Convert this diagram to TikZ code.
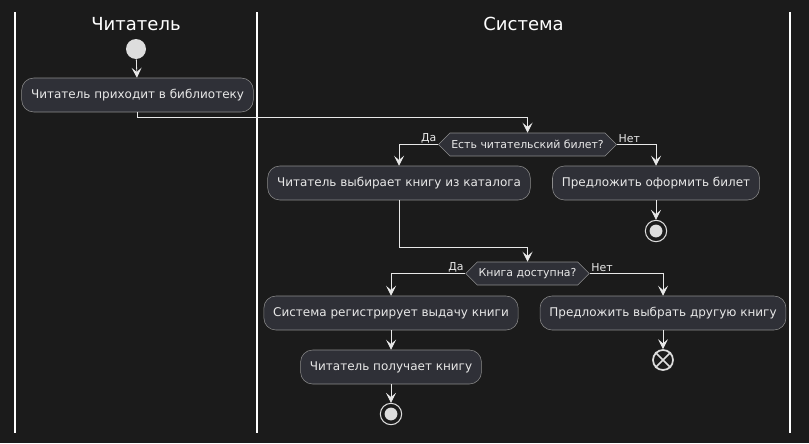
\documentclass[tikz,border=0pt]{standalone}
\usepackage{fontspec}
\setmainfont{DejaVu Sans}
\usetikzlibrary{arrows.meta,shapes.symbols}

\definecolor{bgcol}{HTML}{1B1B1B}
\definecolor{boxfill}{HTML}{2F3037}
\definecolor{boxline}{HTML}{8C8C8C}
\definecolor{inkcol}{HTML}{E8E8E8}
\definecolor{dotcol}{HTML}{DDDDDD}

\begin{document}
\begin{tikzpicture}
[x=0.75pt,y=-0.75pt,
action/.style={rectangle,rounded corners=9pt,draw=boxline,fill=boxfill,
text=inkcol,font=\fontsize{9}{11}\selectfont,
minimum height=25.5pt,inner xsep=7pt},
decision/.style={signal,signal to=west and east,signal pointer angle=90,
draw=boxline,fill=boxfill,text=inkcol,font=\fontsize{8.2}{10}\selectfont,
minimum height=17.25pt,inner xsep=1pt,inner ysep=0pt},
startdot/.style={circle,fill=dotcol,inner sep=0pt,minimum size=15pt},
stopdot/.style={circle,draw=dotcol,thick,fill=bgcol,inner sep=0pt,minimum size=16pt,
path picture={\fill[dotcol] (path picture bounding box.center) circle (4.8pt);}},
killdot/.style={circle,draw=dotcol,line width=1.3pt,inner sep=0pt,minimum size=15pt},
flow/.style={draw=inkcol,semithick,-{Stealth[length=7.5pt,width=7.5pt,inset=3.2pt]}},
guard/.style={text=inkcol,font=\fontsize{8.2}{10}\selectfont,inner sep=1pt},
lane/.style={draw=white,line width=1.5pt},
title/.style={text=white,font=\fontsize{13.5}{16}\selectfont}]

\fill[bgcol] (0,0) rectangle (809,443);
\useasboundingbox (0,0) rectangle (809,443);

% swimlanes
\foreach \x in {15,257,790}
  \draw[lane] (\x,12) -- (\x,433);
\node[title] (reader) at (136,24) {Читатель};
\node[title] (system) at (523.5,24) {Система};

% reader lane
\node[startdot] (start) at (136,49) {};
\node[action] (come) at (137.5,95) {Читатель приходит в библиотеку};

% system lane
\node[decision] (card) at (527.5,144.5) {Есть читательский билет?};
\node[action] (choose) at (399,183) {Читатель выбирает книгу из каталога};
\node[action] (offer) at (656,183) {Предложить оформить билет};
\node[stopdot] (stop1) at (656,231) {};
\node[decision] (free) at (527.5,273.5) {Книга доступна?};
\node[action] (issue) at (391,313) {Система регистрирует выдачу книги};
\node[action] (take) at (391,367) {Читатель получает книгу};
\node[stopdot] (stop2) at (391,414) {};
\node[action] (other) at (663,313) {Предложить выбрать другую книгу};
\node[killdot] (kill) at (663,360) {};
\draw[dotcol,line width=1.3pt] (kill.north west) -- (kill.south east)
  (kill.north east) -- (kill.south west);

% connectors
\draw[flow] (start) -- (come);
\draw[flow] (come.south) -- ++(0,5) -| (card);
\draw[flow] (card.west) -| (choose) node[guard,pos=0,above left] {Да};
\draw[flow] (card.east) -| (offer) node[guard,pos=0,above right] {Нет};
\draw[flow] (offer) -- (stop1);
\draw[flow] (choose.south) -- ++(0,47) -| (free);
\draw[flow] (free.west) -| (issue) node[guard,pos=0,above left] {Да};
\draw[flow] (free.east) -| (other) node[guard,pos=0,above right] {Нет};
\draw[flow] (issue) -- (take);
\draw[flow] (take) -- (stop2);
\draw[flow] (other) -- (kill);
\end{tikzpicture}
\end{document}
